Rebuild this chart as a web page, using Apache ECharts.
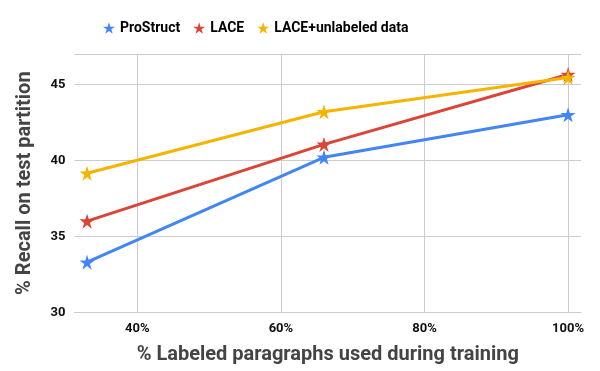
<!DOCTYPE html>
<html><head><meta charset="utf-8">
<script src="https://cdn.jsdelivr.net/npm/echarts@6/dist/echarts.min.js"></script>
<style>html,body{margin:0;padding:0;background:#fff}#c{width:600px;height:371px}</style>
</head><body><div id="c"></div>
<script>
const xValues = [33, 66, 100];
const proStruct = [33.3, 40.2, 43.0];
const lace = [36.0, 41.05, 45.65];
const laceUnlabeled = [39.15, 43.2, 45.45];
const xTicks = [40, 60, 80, 100];
const yTicks = [30, 35, 40, 45];
const seriesNames = ['ProStruct', 'LACE', 'LACE+unlabeled data'];
const colors = ['#4285F4', '#DB4437', '#F4B400'];

const star = 'path://M50,0 L61.2,34.5 L97.6,34.5 L68.2,55.9 L79.4,90.5 L50,69.1 L20.6,90.5 L31.8,55.9 L2.4,34.5 L38.8,34.5 Z';
const font = 'Roboto';
const chart = echarts.init(document.getElementById('c'), null, {renderer: 'canvas'});
const toPairs = arr => xValues.map((x, i) => [x, arr[i]]);
const allData = [proStruct, lace, laceUnlabeled];
chart.setOption({
  animation: false,
  color: colors,
  textStyle: {fontFamily: font},
  legend: {
    top: 16, left: 98,
    itemWidth: 12, itemHeight: 12, itemGap: 13,
    icon: star,
    textStyle: {fontFamily: font, fontWeight: 'bold', fontSize: 14, color: '#000'},
    data: seriesNames
  },
  grid: {left: 74.5, right: 19, top: 54, bottom: 58.7, containLabel: false},
  xAxis: {
    type: 'value', min: 31.25, max: 101.8,
    name: '% Labeled paragraphs used during training',
    nameLocation: 'middle', nameGap: 33,
    nameTextStyle: {fontFamily: font, fontWeight: 'bold', fontSize: 20, color: '#444'},
    axisLine: {show: true, lineStyle: {color: '#ccc', width: 1}},
    axisTick: {show: false, customValues: xTicks},
    axisLabel: {customValues: xTicks, formatter: '{value}%', fontFamily: font, fontWeight: 'bold', fontSize: 13, color: '#111', margin: 10},
    splitLine: {show: true, lineStyle: {color: '#ccc', width: 1}}
  },
  yAxis: {
    type: 'value', min: 30, max: 47, interval: 5,
    name: '% Recall on test partition',
    nameLocation: 'middle', nameGap: 40,
    nameTextStyle: {fontFamily: font, fontWeight: 'bold', fontSize: 20, color: '#444'},
    axisLine: {show: false},
    axisTick: {show: false},
    axisLabel: {customValues: yTicks, fontFamily: font, fontWeight: 'bold', fontSize: 13, color: '#111', margin: 9},
    splitLine: {show: true, lineStyle: {color: '#ccc', width: 1}}
  },
  series: seriesNames.map((n, i) => ({
    name: n, type: 'line', data: toPairs(allData[i]),
    symbol: star, symbolSize: 15, showSymbol: true,
    lineStyle: {width: 3, color: colors[i]},
    itemStyle: {color: colors[i]},
    z: 2 + i
  }))
});
</script></body></html>
